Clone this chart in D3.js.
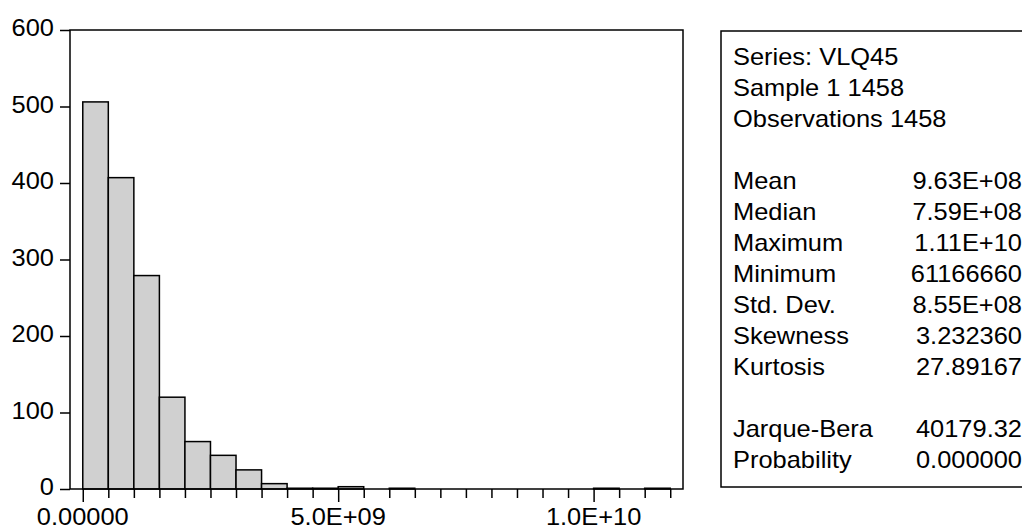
<!DOCTYPE html>
<html>
<head>
<meta charset="utf-8">
<script src="https://cdn.jsdelivr.net/npm/d3@7"></script>
<style>
  body { margin: 0; background: #fff; overflow: hidden; }
  svg text { font-family: "Liberation Sans", Arial, sans-serif; fill: #000; }
</style>
</head>
<body>
<svg id="chart" width="1022" height="530"></svg>
<script>
// histogram bins: start of each bin (width 5.0E+08) and its count
var binWidth = 5e8;
var binStarts = [0, 5e8, 1e9, 1.5e9, 2e9, 2.5e9, 3e9, 3.5e9, 4e9, 4.5e9, 5e9, 5.5e9,
                 6e9, 6.5e9, 7e9, 7.5e9, 8e9, 8.5e9, 9e9, 9.5e9, 1e10, 1.05e10, 1.1e10];
var counts = [506, 407, 279, 120, 62, 44, 25, 7, 1, 1, 3, 0,
              1, 0, 0, 0, 0, 0, 0, 0, 1, 0, 1];

var yTicks = [0, 100, 200, 300, 400, 500, 600];
var xLabelValues = [0, 5e9, 1e10];
var xLabels = ["0.00000", "5.0E+09", "1.0E+10"];

// summary statistics box
var headLines = ["Series: VLQ45", "Sample 1 1458", "Observations 1458"];
var statNames = ["Mean", "Median", "Maximum", "Minimum", "Std. Dev.", "Skewness", "Kurtosis"];
var statValues = ["9.63E+08", "7.59E+08", "1.11E+10", "61166660", "8.55E+08", "3.232360", "27.89167"];
var testNames = ["Jarque-Bera", "Probability"];
var testValues = ["40179.32", "0.000000"];

var fontSize = 24;
var stretch = 1.06;

var svg = d3.select("#chart");

var x = d3.scaleLinear().domain([-2.5e8, 1.175e10]).range([70, 683]);
var y = d3.scaleLinear().domain([0, 600]).range([489, 30]);

// bars
svg.append("g").selectAll("rect")
  .data(binStarts)
  .enter().append("rect")
  .attr("x", function(d){ return x(d); })
  .attr("width", function(d){ return x(d + binWidth) - x(d); })
  .attr("y", function(d, i){ return y(counts[i]); })
  .attr("height", function(d, i){ return y(0) - y(counts[i]); })
  .attr("fill", "#d0d0d0")
  .attr("stroke", "#000")
  .attr("stroke-width", 1.5);

// frame
svg.append("rect")
  .attr("x", 70).attr("y", 30)
  .attr("width", 683 - 70).attr("height", 489 - 30)
  .attr("fill", "none").attr("stroke", "#000").attr("stroke-width", 1.5);

// y axis
var yAxis = d3.axisLeft(y).tickValues(yTicks).tickSize(10).tickFormat("");
var gy = svg.append("g").attr("transform", "translate(70,0)").call(yAxis);
gy.select(".domain").remove();
gy.selectAll("line").attr("stroke", "#000").attr("stroke-width", 1.5);

svg.append("g").selectAll("text")
  .data(yTicks)
  .enter().append("text")
  .attr("transform", function(d){ return "translate(54," + (y(d) + 6) + ") scale(" + stretch + ",1)"; })
  .attr("text-anchor", "end")
  .style("font-size", fontSize + "px")
  .text(function(d){ return d; });

// x axis (tick at every bin edge, longer ones where labelled)
var xTicks = binStarts.concat([binStarts[binStarts.length - 1] + binWidth]);
var xAxis = d3.axisBottom(x).tickValues(xTicks).tickSize(9).tickFormat("");
var gx = svg.append("g").attr("transform", "translate(0,489)").call(xAxis);
gx.select(".domain").remove();
gx.selectAll(".tick line")
  .attr("stroke", "#000").attr("stroke-width", 1.5)
  .attr("y2", function(d){ return xLabelValues.indexOf(d) >= 0 ? 13 : 9; });

svg.append("g").selectAll("text")
  .data(xLabelValues)
  .enter().append("text")
  .attr("transform", function(d){ return "translate(" + x(d) + ",525) scale(" + stretch + ",1)"; })
  .attr("text-anchor", "middle")
  .style("font-size", fontSize + "px")
  .text(function(d, i){ return xLabels[i]; });

// stats box
svg.append("rect")
  .attr("x", 721).attr("y", 31)
  .attr("width", 330).attr("height", 487 - 31)
  .attr("fill", "none").attr("stroke", "#000").attr("stroke-width", 1.5);

var lineH = 31;
var rows = [];
headLines.forEach(function(t, i){ rows.push({ name: t, value: "", line: i }); });
statNames.forEach(function(t, i){ rows.push({ name: t, value: statValues[i], line: 4 + i }); });
testNames.forEach(function(t, i){ rows.push({ name: t, value: testValues[i], line: 12 + i }); });

var row = svg.append("g").selectAll("g")
  .data(rows)
  .enter().append("g");

row.append("text")
  .attr("transform", function(d){ return "translate(733," + (65 + d.line * lineH) + ") scale(" + stretch + ",1)"; })
  .style("font-size", fontSize + "px")
  .text(function(d){ return d.name; });

row.append("text")
  .attr("transform", function(d){ return "translate(1022," + (65 + d.line * lineH) + ") scale(" + stretch + ",1)"; })
  .attr("text-anchor", "end")
  .style("font-size", fontSize + "px")
  .text(function(d){ return d.value; });
</script>
</body>
</html>
